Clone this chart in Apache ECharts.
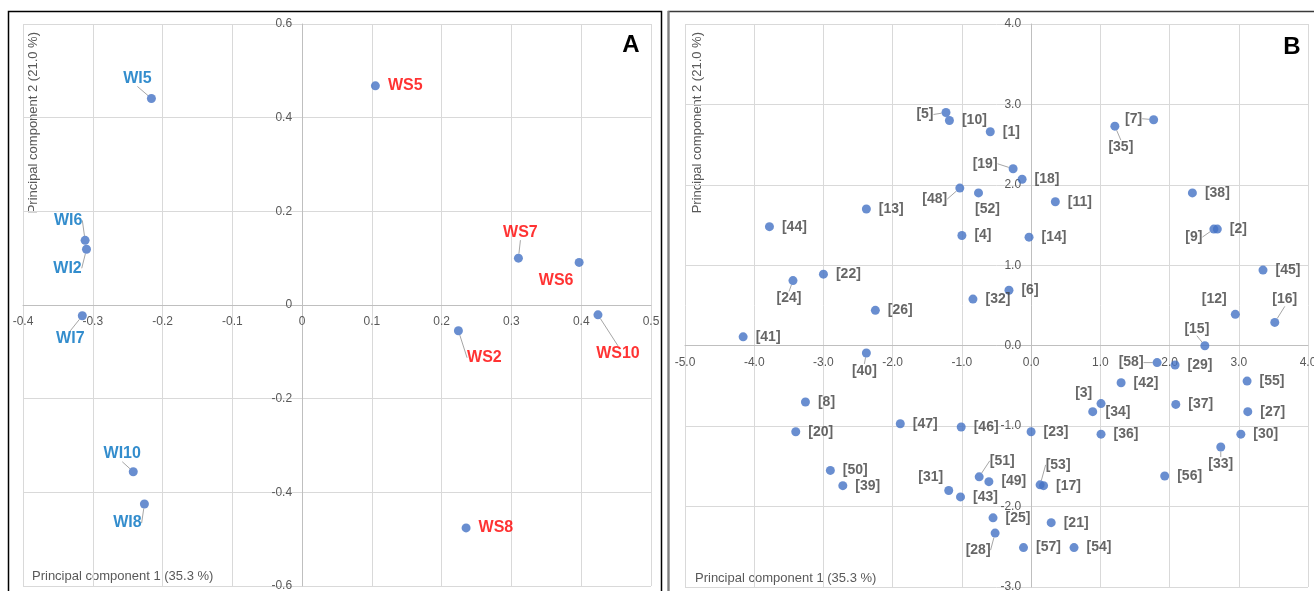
<!DOCTYPE html>
<html>
<head>
<meta charset="utf-8">
<script src="https://cdn.jsdelivr.net/npm/echarts@6/dist/echarts.min.js"></script>
<style>
html, body { margin: 0; padding: 0; background: #fff; }
#myecharts { width: 1314px; height: 591px; }
</style>
</head>
<body>
<div id="myecharts"></div>
<script>
// panel A - wine samples
var wiNames = ['WI5', 'WI6', 'WI2', 'WI7', 'WI10', 'WI8'];
var wiPc1 = [-0.216, -0.311, -0.309, -0.315, -0.242, -0.226];
var wiPc2 = [0.441, 0.138, 0.119, -0.023, -0.356, -0.425];

var wsNames = ['WS5', 'WS7', 'WS6', 'WS2', 'WS10', 'WS8'];
var wsPc1 = [0.105, 0.310, 0.397, 0.224, 0.424, 0.235];
var wsPc2 = [0.468, 0.100, 0.091, -0.055, -0.021, -0.476];

// panel B - compounds [1]..[58]
var bPc1 = [-0.59, 2.69, 0.89, -1.00, -1.23, -0.32, 1.77, -3.26, 2.64, -1.18,
            0.35, 2.95, -2.38, -0.03, 2.51, 3.52, 0.18, -0.13, -0.26, -3.40,
            0.29, -3.00, 0.00, -3.44, -0.55, -2.25, 3.13, -0.52, 2.08, 3.03,
            -1.19, -0.84, 2.74, 1.01, 1.21, 1.01, 2.09, 2.33, -2.72, -2.38,
            -4.16, 1.30, -1.02, -3.78, 3.35, -1.01, -1.89, -1.03, -0.61, -2.90,
            -0.75, -0.76, 0.13, 0.62, 3.12, 1.93, -0.11, 1.82];
var bPc2 = [2.66, 1.45, -0.82, 1.37, 2.90, 0.69, 2.81, -0.70, 1.45, 2.80,
            1.79, 0.39, 1.70, 1.35, 0.00, 0.29, -1.74, 2.07, 2.20, -1.07,
            -2.20, 0.89, -1.07, 0.81, -2.14, 0.44, -0.82, -2.33, -0.24, -1.10,
            -1.80, 0.58, -1.26, -0.72, 2.73, -1.10, -0.73, 1.90, -1.74, -0.09,
            0.11, -0.46, -1.88, 1.48, 0.94, -1.01, -0.97, 1.96, -1.69, -1.55,
            -1.63, 1.90, -1.73, -2.51, -0.44, -1.62, -2.51, -0.21];

// label placement: [dx, dy, leader line]
var spotA = {
    WI5: [-14, -20, 1], WI6: [-17, -20, 1], WI2: [-19, 19, 1], WI7: [-12, 23, 1],
    WI10: [-11, -18, 1], WI8: [-17, 19, 1],
    WS7: [2, -26, 1], WS6: [-23, 18, 0], WS2: [26, 27, 1], WS10: [20, 39, 1]
};
var spotB = {
    '[5]': [-21, 2, 1], '[48]': [-25, 11, 1], '[19]': [-28, -5, 1], '[52]': [9, 16, 0],
    '[24]': [-4, 18, 1], '[40]': [-2, 18, 1], '[35]': [6, 21, 1], '[7]': [-20, -1, 1],
    '[9]': [-20, 8, 1], '[12]': [-21, -15, 0], '[16]': [10, -23, 1], '[15]': [-8, -17, 1],
    '[58]': [-26, 0, 1], '[3]': [-9, -19, 0], '[34]': [17, 9, 0], '[33]': [0, 17, 1],
    '[31]': [-18, -13, 0], '[51]': [23, -16, 1], '[53]': [18, -20, 1], '[28]': [-17, 17, 1]
};

var FONT = 'Arial, "Liberation Sans", sans-serif';

function points(names, xs, ys, spot) {
    return names.map(function (n, i) {
        var item = { name: n, value: [xs[i], ys[i]] };
        var s = spot[n];
        if (s) {
            item.label = { position: 'inside', offset: [s[0], s[1]] };
            item.labelLine = { show: !!s[2] };
        }
        return item;
    });
}

var bNames = bPc1.map(function (v, i) { return '[' + (i + 1) + ']'; });

function axis(gi, min, max, step, fmt, gap) {
    return {
        gridIndex: gi, type: 'value', min: min, max: max, interval: step,
        axisLine: { onZero: false, lineStyle: { color: '#bfbfbf', width: 1 } },
        axisTick: { show: false },
        axisLabel: { color: '#595959', fontSize: 12, fontFamily: FONT, formatter: fmt, margin: gap, showMinLabel: true, showMaxLabel: true },
        splitLine: { show: true, lineStyle: { color: '#d9d9d9', width: 1 } }
    };
}
var fmtA = function (v) { return String(Math.round(v * 10) / 10); };
var fmtB = function (v) { return (Math.round(v * 10) / 10).toFixed(1); };

function serie(gi, data, color, size) {
    return {
        type: 'scatter', xAxisIndex: gi, yAxisIndex: gi,
        symbol: 'circle', symbolSize: 9,
        itemStyle: { color: '#4472C4' },
        label: {
            show: true, position: 'right', distance: 8,
            formatter: function (p) { return p.name; },
            color: color, fontWeight: 'bold', fontSize: size, fontFamily: FONT
        },
        labelLine: { show: false, lineStyle: { color: '#a6a6a6', width: 1 } },
        data: data,
        animation: false
    };
}

function title(x, y, txt, rot) {
    return {
        type: 'text', x: x, y: y, rotation: rot ? Math.PI / 2 : 0,
        style: { text: txt, fill: '#595959', font: '13px ' + FONT, align: rot ? 'right' : 'left', verticalAlign: 'middle' }
    };
}

var echart = echarts.init(document.getElementById('myecharts'));
echart.setOption({
    backgroundColor: '#fff',
    animation: false,
    grid: [
        { left: 23, top: 24, width: 628, height: 562, outerBoundsMode: 'none', containLabel: false },
        { left: 685, top: 24, width: 623, height: 563, outerBoundsMode: 'none', containLabel: false }
    ],
    xAxis: [axis(0, -0.4, 0.5, 0.1, fmtA, 11), axis(1, -5, 4, 1, fmtB, 11)],
    yAxis: [axis(0, -0.6, 0.6, 0.2, fmtA, 10), axis(1, -3, 4, 1, fmtB, 10)],
    series: [
        serie(0, points(wiNames, wiPc1, wiPc2, spotA), '#0070C0', 16),
        serie(0, points(wsNames, wsPc1, wsPc2, spotA), '#FF0000', 16),
        serie(1, points(bNames, bPc1, bPc2, spotB), '#404040', 14)
    ],
    graphic: [
        { type: 'rect', shape: { x: 8.5, y: 11.5, width: 653, height: 600 }, style: { fill: 'none', stroke: '#000', lineWidth: 1.5 }, z: 10 },
        { type: 'rect', shape: { x: 668.5, y: 11.5, width: 700, height: 600 }, style: { fill: 'none', stroke: '#3a3a3a', lineWidth: 1.5 }, z: 10 },
        { type: 'line', shape: { x1: 668.5, y1: 11, x2: 668.5, y2: 591 }, style: { stroke: '#808080', lineWidth: 2 }, z: 11 },
        title(32, 576, 'Principal component 1 (35.3 %)'),
        title(695, 578, 'Principal component 1 (35.3 %)'),
        title(33, 32, 'Principal component 2 (21.0 %)', true),
        title(697, 32, 'Principal component 2 (21.0 %)', true),
        { type: 'text', x: 631, y: 45, style: { text: 'A', fill: '#000', font: 'bold 24px ' + FONT, align: 'center', verticalAlign: 'middle' } },
        { type: 'text', x: 1292, y: 47, style: { text: 'B', fill: '#000', font: 'bold 24px ' + FONT, align: 'center', verticalAlign: 'middle' } }
    ]
});

// move the axes onto the zero lines (axes cross at 0,0)
var xOff = [], yOff = [];
[[-0.4, -0.6], [-5, -3]].forEach(function (lo, gi) {
    var corner = echart.convertToPixel({ gridIndex: gi }, lo);
    var zero = echart.convertToPixel({ gridIndex: gi }, [0, 0]);
    xOff.push({ offset: -(corner[1] - zero[1]) });
    yOff.push({ offset: -(zero[0] - corner[0]) });
});
echart.setOption({ xAxis: xOff, yAxis: yOff });

window.addEventListener('resize', function () {
    if (echart) {
        echart.resize();
    }
});
</script>
</body>
</html>
